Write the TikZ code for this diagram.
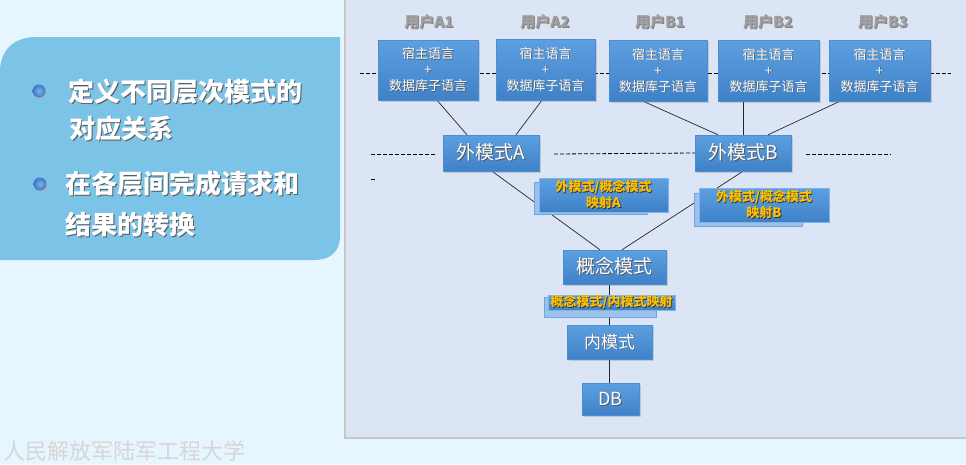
\documentclass[tikz,border=0pt]{standalone}
\usepackage{fontspec}
\setmainfont{Noto Sans CJK SC}
\usetikzlibrary{shadows,calc}
\definecolor{bgc}{HTML}{E6F6FE}
\definecolor{panelc}{HTML}{DCE5F5}
\definecolor{lpanel}{HTML}{7CC3E8}
\definecolor{boxtop}{HTML}{5DA0E0}
\definecolor{boxbot}{HTML}{3F81C8}
\definecolor{boxedge}{HTML}{4C8ED4}
\definecolor{backbox}{HTML}{9CC2EC}
\definecolor{backedge}{HTML}{6EA5E0}
\definecolor{mapedge}{HTML}{7FB4EA}
\definecolor{gold}{HTML}{FFC000}
\definecolor{bulletin}{HTML}{7FB2EA}
\definecolor{bulletout}{HTML}{3B78C2}
\definecolor{footc}{HTML}{D9D4D5}
\definecolor{labelc}{HTML}{A0A0A0}
\newcommand{\stx}[3]{\leavevmode\rlap{\kern0.9pt\raisebox{-0.9pt}{\textcolor{#2}{#3}}}\textcolor{#1}{#3}}
\newcommand{\wt}[1]{\stx{white}{black!65}{#1}}
\newcommand{\gt}[1]{\stx{gold}{black!80}{#1}}
\newcommand{\lt}[1]{\stx{labelc}{black!50}{#1}}
\pgfdeclarelayer{back}
\pgfdeclarelayer{lines}
\pgfsetlayers{back,lines,main}
\tikzset{
  bluebox/.style={draw=boxedge, line width=0.4pt, top color=boxtop, bottom color=boxbot,
    inner sep=0pt, align=center,
    drop shadow={shadow xshift=1.5pt, shadow yshift=-1.5pt, opacity=0.3}},
  userbox/.style={bluebox, font=\fontsize{13}{16}\selectfont},
  bigbox/.style={bluebox, font=\fontsize{19}{22}\selectfont},
  mapfront/.style={draw=mapedge, line width=0.6pt, top color=boxtop, bottom color=boxbot,
    inner sep=0pt, align=center, font=\fontsize{13}{15.5}\selectfont\bfseries},
  mapback/.style={draw=backedge, line width=0.6pt, fill=backbox, inner sep=0pt},
  ulabel/.style={font=\fontsize{15}{18}\selectfont\bfseries, inner sep=0pt},
  conn/.style={draw=black!85, line width=0.7pt},
  dline/.style={draw=black, line width=0.8pt, dash pattern=on 4pt off 2pt},
  bultext/.style={anchor=west, inner sep=0pt, font=\fontsize{26}{30}\selectfont\bfseries},
  bulball/.style={inner color=bulletin, outer color=bulletout}
}
\begin{document}
\begin{tikzpicture}[x=1pt,y=-1pt]
\useasboundingbox (0,0) rectangle (966,464);
\clip (0,0) rectangle (966,464);
\begin{pgfonlayer}{back}
\fill[bgc] (0,0) rectangle (966,464);
% right panel
\fill[black!22] (344,0) rectangle (966,438.5);
\fill[panelc] (345.5,0) rectangle (966,437);
% left panel
\fill[lpanel] (0,260) -- (0,72) .. controls (0,50) and (14,37) .. (36,37) -- (340,37)
  -- (340,236) .. controls (340,252) and (330,260) .. (314,260) -- cycle;
\end{pgfonlayer}

% left bullets
\fill[black!30] (39.8,92.2) circle (6.5pt);
\shade[bulball] (39,91) circle (6.5pt);
\fill[black!30] (40.8,185.2) circle (6.5pt);
\shade[bulball] (40,184) circle (6.5pt);
\node[bultext] (t1) at (68,92) {\wt{定义不同层次模式的}};
\node[bultext] (t2) at (69,129) {\wt{对应关系}};
\node[bultext] (t3) at (65,184) {\wt{在各层间完成请求和}};
\node[bultext] (t4) at (65,225) {\wt{结果的转换}};

% footer
\node[anchor=west, inner sep=0pt, text=footc, font=\fontsize{22}{26}\selectfont] (foot) at (3,451) {人民解放军陆军工程大学};

% user labels
\node[ulabel] (la1) at (429,22) {\lt{用户A1}};
\node[ulabel] (la2) at (545,22) {\lt{用户A2}};
\node[ulabel] (lb1) at (660,22) {\lt{用户B1}};
\node[ulabel] (lb2) at (768,22) {\lt{用户B2}};
\node[ulabel] (lb3) at (883,22) {\lt{用户B3}};

% user boxes
\node[userbox, minimum width=100pt, minimum height=60pt] (a1) at (428,70) {\wt{宿主语言}\\\wt{+}\\\wt{数据库子语言}};
\node[userbox, minimum width=99pt, minimum height=61pt] (a2) at (545.5,69.5) {\wt{宿主语言}\\\wt{+}\\\wt{数据库子语言}};
\node[userbox, minimum width=98pt, minimum height=61pt] (b1) at (658,70.5) {\wt{宿主语言}\\\wt{+}\\\wt{数据库子语言}};
\node[userbox, minimum width=101pt, minimum height=61pt] (b2) at (768.5,70.5) {\wt{宿主语言}\\\wt{+}\\\wt{数据库子语言}};
\node[userbox, minimum width=101pt, minimum height=61pt] (b3) at (879.5,70.5) {\wt{宿主语言}\\\wt{+}\\\wt{数据库子语言}};

% external schemas
\node[bigbox, minimum width=96pt, minimum height=36pt] (ea) at (491,153) {\wt{外模式A}};
\node[bigbox, minimum width=96pt, minimum height=36pt] (eb) at (743,153) {\wt{外模式B}};

% mapping A
\node[mapback, minimum width=113pt, minimum height=32pt] (mab) at (590.5,198) {};
\node[mapfront, minimum width=129pt, minimum height=34pt] (ma) at (603.5,195) {\gt{外模式/概念模式}\\\gt{映射A}};
% mapping B
\node[mapback, minimum width=108pt, minimum height=33pt] (mbb) at (748,209.5) {};
\node[mapfront, minimum width=130pt, minimum height=34pt] (mb) at (764,205) {\gt{外模式/概念模式}\\\gt{映射B}};

% conceptual schema
\node[bigbox, minimum width=103pt, minimum height=34pt] (cm) at (614.5,267) {\wt{概念模式}};
% mapping conceptual/internal
\node[mapback, minimum width=112pt, minimum height=20pt] (mcb) at (600,307) {};
\node[mapfront, minimum width=127pt, minimum height=15pt] (mc) at (611.5,302.5) {\gt{概念模式/内模式映射}};
% internal schema
\node[bigbox, minimum width=85pt, minimum height=34pt, font=\fontsize{17}{20}\selectfont] (im) at (609.5,342) {\wt{内模式}};
% DB
\node[bigbox, minimum width=57pt, minimum height=32pt, font=\fontsize{18}{20}\selectfont] (db) at (610.5,399) {\wt{DB}};

\begin{pgfonlayer}{lines}
% dashed separators
\draw[dline] (360,73) -- (951,73);
\draw[dline] (371,154) -- (437,154);
\draw[dline] (554,154) -- (ea.east -| eb.west);
\draw[dline] (806,154) -- (891,154);
\draw[dline] (371,179) -- (376,179);
% connectors
\draw[conn] ([xshift=9pt]a1.south) -- ([xshift=-24pt]ea.north);
\draw[conn] ([xshift=-3.5pt]a2.south) -- ([xshift=25pt]ea.north);
\draw[conn] ([xshift=-15pt]b1.south) -- ([xshift=-25pt]eb.north);
\draw[conn] (b2.south -| eb.north) -- (eb.north);
\draw[conn] ([xshift=-39.5pt]b3.south) -- ([xshift=25pt]eb.north);
\draw[conn] ([xshift=1pt]ea.south) -- ([xshift=-14.5pt]cm.north);
\draw[conn] (eb.south) -- ([xshift=7.5pt]cm.north);
\draw[conn] (cm.south -| im.north) -- (im.north);
\draw[conn] (im.south) -- (im.south |- db.north);
\end{pgfonlayer}
\end{tikzpicture}
\end{document}
